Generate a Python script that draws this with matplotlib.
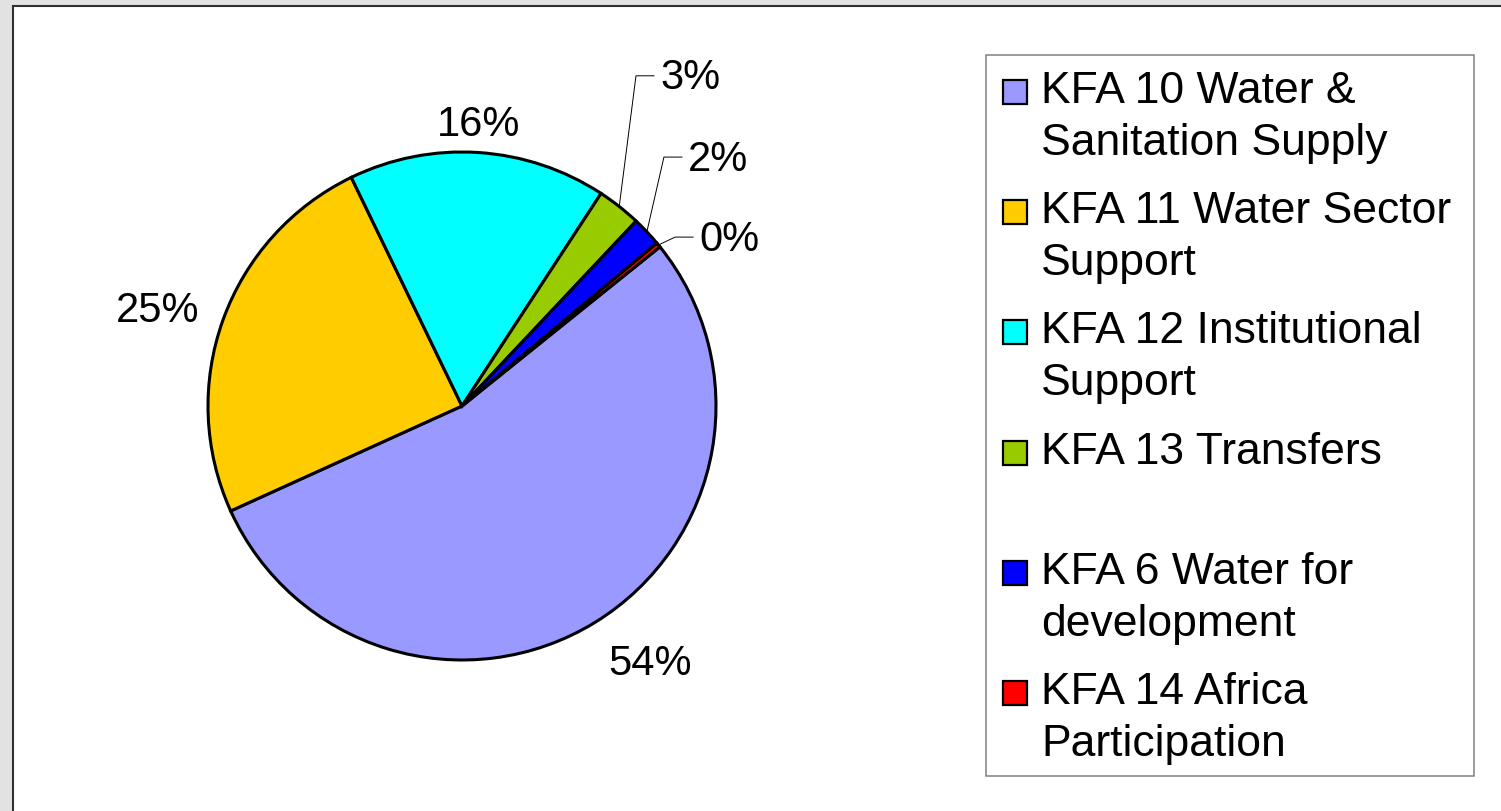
import matplotlib
matplotlib.use("Agg")
import matplotlib.pyplot as plt
import numpy as np
from matplotlib.patches import Rectangle
from matplotlib.transforms import Affine2D

plt.rcParams["font.family"] = ["Liberation Sans", "DejaVu Sans"]

# data
labels = [
    "KFA 10 Water &\nSanitation Supply",
    "KFA 11 Water Sector\nSupport",
    "KFA 12 Institutional\nSupport",
    "KFA 13 Transfers",
    "KFA 6 Water for\ndevelopment",
    "KFA 14 Africa\nParticipation",
]
shares = [54.0, 24.6, 16.4, 2.8, 1.9, 0.3]
colors = ["#9999FF", "#FFCC00", "#00FFFF", "#99CC00", "#0000FF", "#FF0000"]

W, H = 1501, 811
fig = plt.figure(figsize=(W / 100, H / 100), dpi=100)
fig.patch.set_facecolor("#e2e2e2")

# pixel coordinates, y measured from the top
px = Affine2D().scale(1 / W, -1 / H).translate(0, 1) + fig.transFigure

# white chart area with dark frame
fig.add_artist(Rectangle((12.5, 5.5), 1600, 900, transform=px,
                         facecolor="white", edgecolor="#303030",
                         linewidth=1.5, zorder=-1))

# pie axes: 1 data unit = R pixels, centre at (cx, cy)
cx, cy, R = 462, 406, 254
ax = fig.add_axes([0, 0, 1, 1])
wedges, _ = ax.pie(shares, colors=colors, startangle=38.8, counterclock=False,
                   wedgeprops=dict(edgecolor="black", linewidth=2.2))
ax.set_aspect("auto")
ax.set_xlim(-cx / R, (W - cx) / R)
ax.set_ylim((cy - H) / R, cy / R)
ax.axis("off")

# elbow points of leader lines for the thin slices (layout only)
elbows = {3: (0.685, 1.300), 4: (0.795, 0.980), 5: (0.839, 0.665)}

for i, (w, s) in enumerate(zip(wedges, shares)):
    mid = np.deg2rad((w.theta1 + w.theta2) / 2)
    c, sn = np.cos(mid), np.sin(mid)
    txt = f"{s:.0f}%"
    if i in elbows:
        ex, ey = elbows[i]
        ax.plot([c, ex, ex + 0.071], [sn, ey, ey], color="black", lw=0.7)
        ax.text(ex + 0.095, ey - 0.01, txt, fontsize=30, ha="left", va="center")
    else:
        ha = "left" if c > 0.3 else ("right" if c < -0.3 else "center")
        va = "bottom" if sn > 0.5 else ("top" if sn < -0.5 else "center")
        r = 1.03 if va == "bottom" else 1.1
        ax.text(r * c, r * sn, txt, fontsize=30, ha=ha, va=va)

# legend drawn by hand so markers sit on the first line of each entry
fig.add_artist(Rectangle((986, 55), 488, 721, transform=px, facecolor="white",
                         edgecolor="#808080", linewidth=1.1))
pitch = 120.2
for i, (lab, col) in enumerate(zip(labels, colors)):
    top = 80 + pitch * i
    fig.add_artist(Rectangle((1003, top), 24, 24, transform=px, facecolor=col,
                             edgecolor="black", linewidth=1.6))
    for j, line in enumerate(lab.split("\n")):
        fig.text(1041, 103 + pitch * i + 52 * j, line, transform=px,
                 fontsize=32, ha="left", va="baseline")

fig.savefig("out.png", dpi=100, facecolor=fig.get_facecolor())
